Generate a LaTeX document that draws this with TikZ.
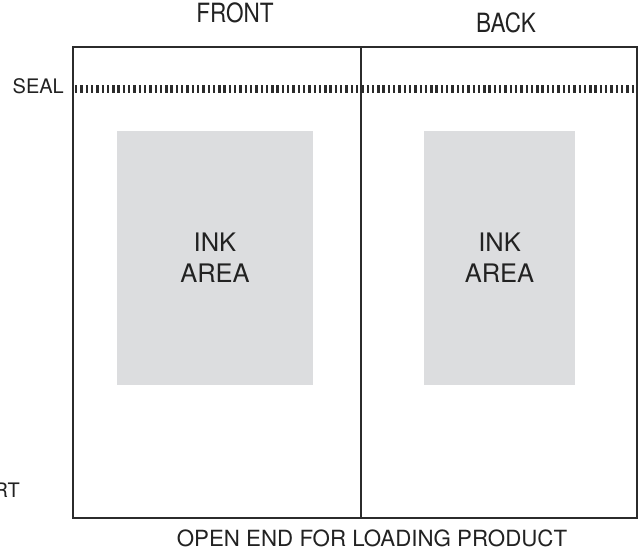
\documentclass[tikz,border=0pt]{standalone}
\usepackage{fontspec}
\setmainfont{TeX Gyre Heros}
\newfontfamily\condfont{TeX Gyre Heros}[FakeStretch=0.85]
\begin{document}
\begin{tikzpicture}[x=1pt,y=-1pt,
  panel/.style={draw=linecol,line width=1.8pt,inner sep=0pt,minimum height=471pt},
  ink/.style={fill=inkgray,inner sep=0pt,align=center,text=txt,font=\fontsize{25.5}{31}\selectfont},
  lbl/.style={inner sep=0pt,text=txt,font=\condfont\fontsize{26.5}{30}\selectfont},
  small/.style={inner sep=0pt,text=txt,font=\fontsize{21}{25}\selectfont},
  seal/.style={draw=linecol,line width=8pt,dash pattern=on 2.4pt off 2.9pt}]
\definecolor{linecol}{HTML}{2B2B2B}
\definecolor{inkgray}{HTML}{DCDDDF}
\definecolor{txt}{HTML}{222222}
\useasboundingbox (0,0) rectangle (639,552);
\node[panel,minimum width=288pt] (front) at (217,282.5) {};
\node[panel,minimum width=276pt] (back) at (499,282.5) {};
\node[ink,minimum width=196pt,minimum height=254pt] (inkL) at (215,258) {INK\\AREA};
\node[ink,minimum width=151pt,minimum height=254pt] (inkR) at (499.5,258) {INK\\AREA};
\coordinate (sealA) at (75,89);
\coordinate (sealB) at (634,89);
\draw[seal] (sealA) -- (sealB);
\node[lbl] (fronttxt) at (235,12.5) {FRONT};
\node[lbl] (backtxt) at (506,22.5) {BACK};
\node[small,font=\fontsize{20}{24}\selectfont,anchor=east] (sealtxt) at (64,86) {SEAL};
\node[small,font=\fontsize{20}{24}\selectfont,anchor=east] (rt) at (20,490) {RT};
\node[small,font=\fontsize{22.3}{26}\selectfont] (openend) at (372,538.5) {OPEN END FOR LOADING PRODUCT};
\end{tikzpicture}
\end{document}
